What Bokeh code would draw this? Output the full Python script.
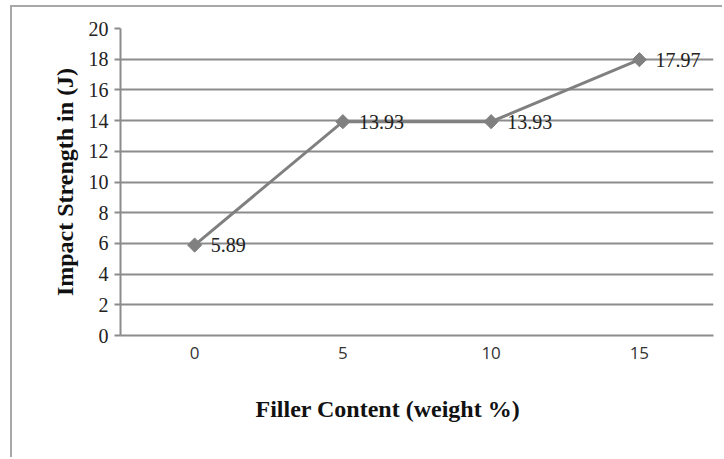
import math
from bokeh.plotting import figure
from bokeh.models import ColumnDataSource, FactorRange, Range1d, SingleIntervalTicker, LabelSet, Title
from bokeh.embed import file_html
from bokeh.resources import INLINE

filler = ["0", "5", "10", "15"]
impact = [5.89, 13.93, 13.93, 17.97]
labels = ["5.89", "13.93", "13.93", "17.97"]
x_title = "Filler Content (weight %)"
y_title = "Impact Strength in (J)"

src = ColumnDataSource(dict(x=filler, y=impact, lab=labels))

p = figure(width=712, height=452, x_range=FactorRange(*filler, range_padding=0),
           y_range=Range1d(0, 20), output_backend="svg", toolbar_location=None,
           min_border_left=108, min_border_right=11, min_border_top=21, min_border_bottom=124)
p.styles = {"margin-left": "10px", "margin-top": "5px",
            "border-left": "2px solid #a8a8a8", "border-top": "2px solid #a8a8a8"}
p.outline_line_color = None
p.background_fill_color = "white"

p.line("x", "y", source=src, line_color="#808080", line_width=3)
p.scatter("x", "y", source=src, marker="square", size=10, angle=math.pi / 4,
          fill_color="#808080", line_color="#808080")
p.add_layout(LabelSet(x="x", y="y", text="lab", source=src, x_offset=16, y_offset=0,
                      text_baseline="middle", text_font="Liberation Serif",
                      text_font_size="20px", text_color="#222222"))

p.yaxis.ticker = SingleIntervalTicker(interval=2)
p.yaxis.minor_tick_line_color = None
p.yaxis.major_tick_out = 6
p.yaxis.major_tick_in = 0
p.yaxis.major_tick_line_color = "#8c8c8c"
p.yaxis.major_tick_line_width = 2
p.yaxis.axis_line_color = "#8c8c8c"
p.yaxis.axis_line_width = 2
p.yaxis.major_label_text_font = "Liberation Serif"
p.yaxis.major_label_text_font_size = "20px"
p.yaxis.major_label_text_color = "#222222"
p.yaxis.major_label_standoff = 6
p.yaxis.axis_label = y_title
p.yaxis.axis_label_text_font = "Liberation Serif"
p.yaxis.axis_label_text_font_style = "bold"
p.yaxis.axis_label_text_font_size = "24px"
p.yaxis.axis_label_text_color = "#111111"
p.yaxis.axis_label_standoff = 8

p.xaxis.major_tick_line_color = None
p.xaxis.axis_line_color = "#8c8c8c"
p.xaxis.axis_line_width = 2
p.xaxis.major_label_text_font = "Open Sans"
p.xaxis.major_label_text_font_size = "17px"
p.xaxis.major_label_text_color = "#333333"
p.xaxis.major_label_standoff = 5

p.add_layout(Title(text=x_title, align="left", offset=135, standoff=65,
                   text_font="Liberation Serif", text_font_style="bold",
                   text_font_size="24px", text_color="#111111"), "below")

p.xgrid.grid_line_color = None
p.ygrid.grid_line_color = "#8c8c8c"
p.ygrid.grid_line_width = 2

open("out.html", "w").write(file_html(p, INLINE))
